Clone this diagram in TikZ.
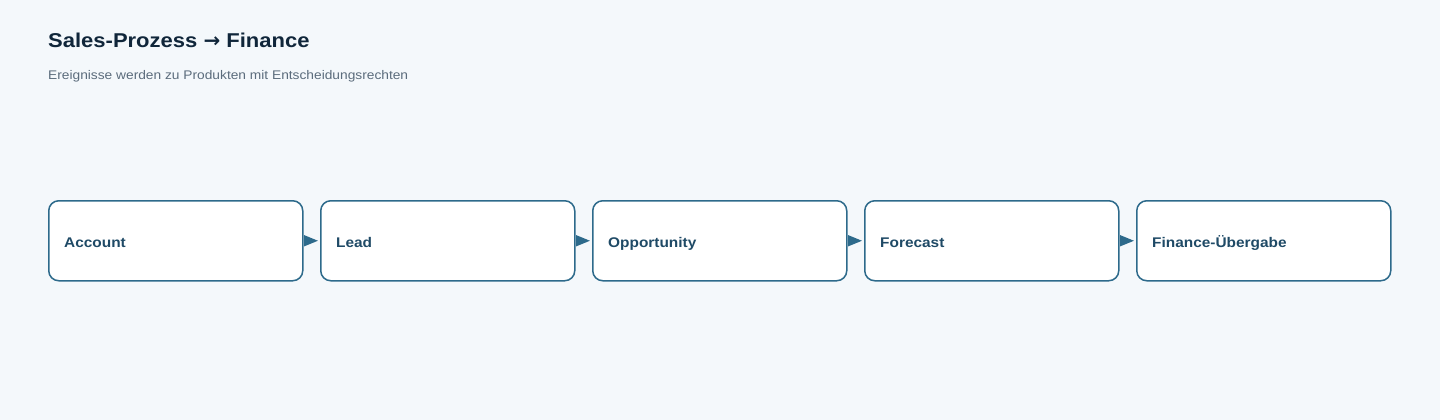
\documentclass[tikz,border=0pt]{standalone}
\usepackage{fontspec}
\setmainfont{Liberation Sans}[FakeStretch=1.1]
\newfontfamily\arrowfont{DejaVu Sans}
\usetikzlibrary{arrows.meta}
\definecolor{bg}{HTML}{F4F8FB}
\definecolor{edge}{HTML}{2D6A8B}
\definecolor{boxtext}{HTML}{1F4A66}
\definecolor{titlec}{HTML}{10263A}
\definecolor{subc}{HTML}{5B6C7C}
\begin{document}
\begin{tikzpicture}[x=1pt,y=-1pt,
  stagebox/.style={draw=edge, line width=1.5pt, fill=white, rounded corners=10pt,
    minimum width=254pt, minimum height=80pt, anchor=north west, inner sep=0pt},
  stagelabel/.style={font=\fontsize{14}{16}\selectfont\bfseries, text=boxtext, anchor=base west, inner sep=0pt},
  flow/.style={draw=edge, line width=1.5pt, -{Triangle[length=14pt,width=11pt]}, shorten >=2pt}]
\fill[bg] (0,0) rectangle (1440,420);
\useasboundingbox (0,0) rectangle (1440,420);
\node[anchor=base west, inner sep=0pt, font=\fontsize{20}{24}\selectfont\bfseries, text=titlec] (title) at (48,48) {Sales-Prozess {\arrowfont\bfseries →} Finance};
\node[anchor=base west, inner sep=0pt, font=\fontsize{12.5}{15}\selectfont, text=subc] (subtitle) at (48,79) {Ereignisse werden zu Produkten mit Entscheidungsrechten};
\foreach \i/\name/\txt in {0/b1/Account,1/b2/Lead,2/b3/Opportunity,3/b4/Forecast,4/b5/Finance-Übergabe}{
  \node[stagebox] (\name) at ({48+272*\i},200) {};
  \node[stagelabel] (\name t) at ({64+272*\i},247) {\txt};
}
\foreach \a/\b in {b1/b2,b2/b3,b3/b4,b4/b5}{
  \draw[flow] (\a.east) -- (\b.west);
}
\end{tikzpicture}
\end{document}
